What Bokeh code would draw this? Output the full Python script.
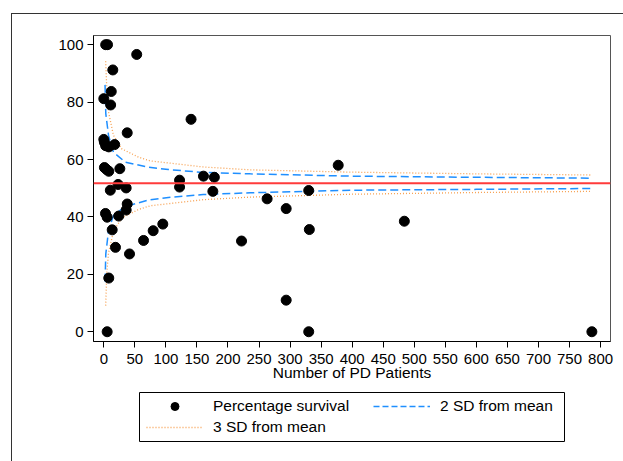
from bokeh.plotting import figure
from bokeh.models import Range1d, Span, Legend, LegendItem, FixedTicker
from bokeh.embed import file_html
from bokeh.resources import INLINE

# ---- data ----
pd_patients = [3, 6, 53, 14.5, 12, 0, 11, 37.7, 0, 1, 3, 8, 17.5, 1, 4.5, 8, 25.8,
               23, 36, 10.5, 122, 122, 140.5, 160.5, 178, 175.6, 263, 293.7, 330,
               331, 377.5, 484, 24, 36, 37.7, 2.7, 5.4, 13.5, 18.8, 41.4, 64, 79.5,
               95, 221.8, 8, 5.4, 293.7, 330, 786]
survival = [100, 100, 96.6, 91.2, 83.7, 81.2, 79, 69.3, 67, 66, 64.8, 64.4, 65.2,
            57.2, 56.5, 55.9, 56.8, 51.3, 50.1, 49.3, 52.8, 50.4, 74, 54.2, 53.8,
            48.9, 46.3, 42.9, 49.2, 35.6, 58, 38.5, 40.3, 42.4, 44.5, 41.2, 39.9,
            35.5, 29.4, 27.1, 31.8, 35.2, 37.5, 31.6, 18.7, 0, 11, 0, 0]
mean_survival = 51.7

sd2_n = [2, 3.2, 7.6, 15.6, 34.5, 72, 104, 160, 236, 397, 600, 786]
sd2_upper = [86, 76, 68.4, 62.5, 59.1, 57.3, 56.5, 55.5, 55.0, 54.2, 53.8, 53.5]
sd2_lower = [17.5, 27.1, 35.2, 40.5, 43.6, 45.9, 46.8, 47.8, 48.4, 49.3, 49.6, 49.9]

sd3_n = [3, 4.8, 7.6, 15.6, 29, 56, 75, 104, 160, 236, 397, 600, 786]
sd3_upper = [94.2, 84.7, 76.5, 68.4, 63.7, 60.8, 59.5, 58.8, 57.4, 56.4, 55.6, 55.0, 54.6]
sd3_lower = [9.1, 20.5, 27.5, 35.0, 39.7, 42.6, 43.9, 44.6, 46.0, 46.9, 47.9, 48.5, 48.9]

x_ticks = list(range(0, 801, 50))
y_ticks = [0, 20, 40, 60, 80, 100]

FONT = "Liberation Sans"
BLUE = "#1f8fff"
ORANGE = "#f7a050"
RED = "#ff3b3b"
BORDER = "1px solid #333333"

# ---------------- main plot ----------------
p = figure(frame_width=517, frame_height=306, output_backend="svg",
           toolbar_location=None,
           x_range=Range1d(-16.6, 816), y_range=Range1d(-3.4, 103.2),
           min_border_left=81, min_border_top=21, min_border_right=13,
           min_border_bottom=50)
p.margin = (13, 0, 0, 11)
p.styles = {"border-left": BORDER, "border-top": BORDER}
p.outline_line_color = "#555555"
p.outline_line_width = 1
p.xgrid.visible = False
p.ygrid.visible = False

for ax in (p.xaxis[0], p.yaxis[0]):
    ax.major_label_text_font = FONT
    ax.major_label_text_font_size = "15px"
    ax.major_label_text_color = "black"
    ax.axis_line_color = "black"
    ax.major_tick_line_color = "black"
    ax.major_tick_out = 6
    ax.major_tick_in = 0
    ax.minor_tick_line_color = None
    ax.major_label_standoff = 4
p.xaxis.major_label_standoff = 6

p.xaxis.ticker = FixedTicker(ticks=x_ticks)
p.yaxis.ticker = FixedTicker(ticks=y_ticks)
p.xaxis.axis_label = "Number of PD Patients"
p.xaxis.axis_label_text_font = FONT
p.xaxis.axis_label_text_font_size = "15.5px"
p.xaxis.axis_label_text_font_style = "normal"
p.xaxis.axis_label_text_color = "black"
p.xaxis.axis_label_standoff = -3

p.add_layout(Span(location=mean_survival, dimension="width",
                  line_color=RED, line_width=2))

p.line(sd3_n, sd3_upper, line_color=ORANGE, line_width=1.3, line_dash="1 2")
p.line(sd3_n, sd3_lower, line_color=ORANGE, line_width=1.3, line_dash="1 2")
p.line(sd2_n, sd2_upper, line_color=BLUE, line_width=1.5, line_dash="8 4")
p.line(sd2_n, sd2_lower, line_color=BLUE, line_width=1.5, line_dash="8 4")
p.scatter(pd_patients, survival, size=10, fill_color="black", line_color="black")

# ---------------- legend panel (separate root, frame = legend box) ----------------
lf = figure(frame_width=425, frame_height=49, output_backend="svg",
            toolbar_location=None,
            x_range=Range1d(-5000, -4999), y_range=Range1d(-5000, -4999),
            min_border_left=127, min_border_right=59, min_border_top=1,
            min_border_bottom=20, x_axis_location=None, y_axis_location=None)
lf.margin = (0, 0, 0, 11)
lf.styles = {"border-left": BORDER}
lf.xgrid.visible = False
lf.ygrid.visible = False
lf.outline_line_color = "black"
lf.outline_line_width = 1

# proxies drawn from the same data, outside this panel's visible ranges
g_pts = lf.scatter(pd_patients, survival, size=10, fill_color="black", line_color="black")
g_sd2 = lf.line(sd2_n, sd2_upper, line_color=BLUE, line_width=1.5, line_dash="6 3")
g_sd3 = lf.line(sd3_n, sd3_upper, line_color=ORANGE, line_width=1.3, line_dash="1 2")

def make_legend(items, loc):
    lg = Legend(items=items, location=loc, orientation="vertical")
    lg.label_text_font = FONT
    lg.label_text_font_size = "15.5px"
    lg.label_text_color = "black"
    lg.glyph_width = 57
    lg.glyph_height = 20
    lg.label_height = 20
    lg.label_standoff = 10
    lg.padding = 0
    lg.spacing = 1
    lg.margin = 0
    lg.border_line_color = None
    lg.background_fill_alpha = 0
    return lg

lf.add_layout(make_legend([
    LegendItem(label="Percentage survival", renderers=[g_pts]),
    LegendItem(label="3 SD from mean", renderers=[g_sd3]),
], (7, 4)), "center")
lf.add_layout(make_legend([
    LegendItem(label="2 SD from mean", renderers=[g_sd2]),
], (234, 25)), "center")

open("out.html", "w").write(file_html([p, lf], INLINE))
